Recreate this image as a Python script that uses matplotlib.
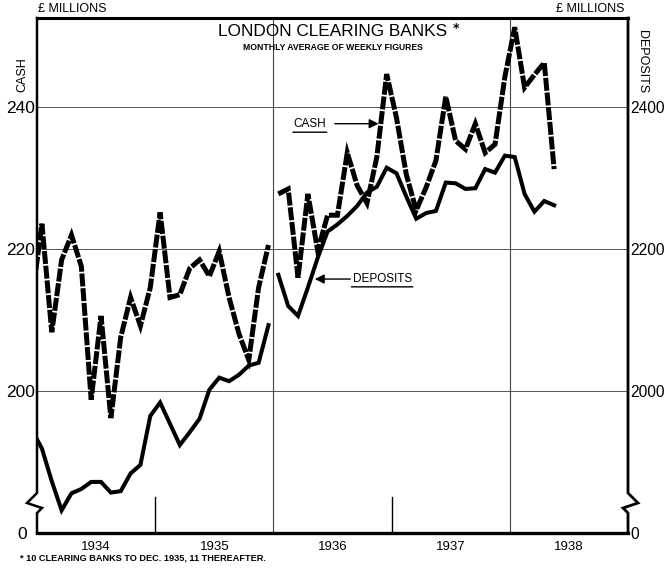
import matplotlib
matplotlib.use('Agg')
import matplotlib.pyplot as plt
from matplotlib import font_manager

# monthly averages, Dec 1933 - Dec 1935 (10 clearing banks), £ millions
start_10 = (1933, 12)
cash_10 = [213.0, 223.6, 208.3, 218.5, 222.0, 217.6, 198.8, 210.6, 196.2, 207.6, 213.2, 209.2, 214.6,
           225.2, 213.2, 213.6, 217.3, 218.5, 216.2, 219.7, 213.2, 208.1, 204.4, 214.6, 220.6]
deposits_10 = [1945, 1919, 1873, 1832, 1856, 1862, 1872, 1872, 1857, 1859, 1884, 1896, 1965,
               1984, 1954, 1924, 1942, 1961, 2002, 2019, 2014, 2023, 2036, 2040, 2093]

# Jan 1936 - May 1938 (11 clearing banks)
start_11 = (1936, 1)
cash_11 = [227.8, 228.5, 216.0, 227.8, 219.8, 224.8, 224.8, 233.6, 229.0, 226.5, 233.0, 244.7,
           238.5, 230.5, 225.5, 228.7, 232.5, 241.5, 235.3, 234.1, 237.7, 233.6, 234.8, 244.3,
           251.3, 242.8, 244.6, 246.3, 231.3]
deposits_11 = [2164, 2120, 2106, 2146, 2188, 2225, 2235, 2247, 2261, 2280, 2288, 2315,
               2307, 2274, 2243, 2251, 2254, 2294, 2293, 2285, 2286, 2313, 2308, 2332,
               2330, 2278, 2253, 2268, 2262]

years = ['1934', '1935', '1936', '1937', '1938']
cash_ticks = [180, 200, 220, 240]
cash_labels = ['0', '200', '220', '240']
dep_ticks = [1800, 2000, 2200, 2400]
dep_labels = ['0', '2000', '2200', '2400']


def month_x(start, n):
    y, m = start
    xs = []
    for i in range(n):
        xs.append(y + (m - 0.5) / 12)
        m += 1
        if m > 12:
            m = 1
            y += 1
    return xs


names = {f.name for f in font_manager.fontManager.ttflist}
if 'Liberation Sans Narrow' in names:
    NARROW = 'Liberation Sans Narrow'
    k = 1.0
else:
    NARROW = 'Liberation Sans'
    k = 0.86
SANS = 'Liberation Sans'

W, H = 668, 568
fig = plt.figure(figsize=(W / 100, H / 100), dpi=100)
ax = fig.add_axes([37 / W, 35 / H, 591 / W, 515 / H])
ax.set_xlim(1934, 1939)
ax.set_ylim(180, 252.6)
ax2 = ax.twinx()
ax2.set_ylim(1800, 2526)

# grid
for v in cash_ticks[1:]:
    ax.axhline(v, color='#555555', lw=0.7, zorder=1)
ax.axvline(1936, color='#444444', lw=0.8, zorder=1)
ax.axvline(1938, color='#444444', lw=0.8, zorder=1)
ax.axvline(1935, ymax=36 / 515, color='black', lw=1.0, zorder=1)
ax.axvline(1937, ymax=36 / 515, color='black', lw=1.0, zorder=1)

# lines
cash_style = dict(color='black', lw=3.6, dashes=(2.6, 0.35), dash_capstyle='butt',
                  dash_joinstyle='miter', zorder=3)
dep_style = dict(color='black', lw=2.9, solid_joinstyle='miter', zorder=3)
ax.plot(month_x(start_10, len(cash_10)), cash_10, **cash_style)
ax.plot(month_x(start_11, len(cash_11)), cash_11, **cash_style)
ax2.plot(month_x(start_10, len(deposits_10)), deposits_10, **dep_style)
ax2.plot(month_x(start_11, len(deposits_11)), deposits_11, **dep_style)

# spines (side ones are drawn by hand with the axis break)
for a in (ax, ax2):
    for s in a.spines.values():
        s.set_visible(False)
ax.spines['top'].set_visible(True)
ax.spines['top'].set_linewidth(2.2)
ax.spines['bottom'].set_visible(True)
ax.spines['bottom'].set_linewidth(2.4)

aw, ah = 591.0, 515.0
left_pts = [(0, ah), (0, 40), (-10, 30), (5, 25), (0, 20), (0, 0)]
right_pts = [(0, ah), (0, 40), (10, 30), (-5, 25), (0, 20), (0, 0)]
ax.plot([p[0] / aw for p in left_pts], [p[1] / ah for p in left_pts], transform=ax.transAxes,
        clip_on=False, color='black', lw=1.8, solid_joinstyle='miter', zorder=5)
ax.plot([1 + p[0] / aw for p in right_pts], [p[1] / ah for p in right_pts], transform=ax.transAxes,
        clip_on=False, color='black', lw=2.0, solid_joinstyle='miter', zorder=5)

# ticks
ax.tick_params(axis='both', length=0)
ax2.tick_params(axis='both', length=0)
ax.set_yticks(cash_ticks, cash_labels, fontsize=14.5 * k, family=NARROW)
ax.tick_params(axis='y', pad=1.5)
ax.get_yticklabels()[0].set_x(-8 / aw)
ax2.set_yticks(dep_ticks, dep_labels, fontsize=13 * k, family=NARROW)
ax2.tick_params(axis='y', pad=1.5)
ax.set_xticks([1934.5, 1935.5, 1936.5, 1937.5, 1938.5], years, fontsize=9.5, family=SANS)
ax.tick_params(axis='x', pad=6)

# labels
fig.text(38 / W, 1 - 9 / H, '£ MILLIONS', fontsize=9, family=SANS, ha='left', va='center')
fig.text(625 / W, 1 - 9 / H, '£ MILLIONS', fontsize=9, family=SANS, ha='right', va='center')
fig.text(22 / W, 1 - 75 / H, 'CASH', fontsize=9, family=SANS, rotation=90, ha='center', va='center')
fig.text(642 / W, 1 - 62 / H, 'DEPOSITS', fontsize=9, family=SANS, rotation=-90, ha='center', va='center')

title = fig.text(333 / W, 1 - 32 / H, 'LONDON CLEARING BANKS', fontsize=14.4 * k, family=NARROW,
                 ha='center', va='center')
ax.annotate('*', xy=(1, 1), xycoords=title, xytext=(4, 2), textcoords='offset points',
            fontsize=9, fontweight='bold', ha='left', va='top', annotation_clip=False)
fig.text(332.5 / W, 1 - 48 / H, 'MONTHLY AVERAGE OF WEEKLY FIGURES', fontsize=6.2, family=SANS,
         fontweight='bold', ha='center', va='center')
fig.text(20 / W, 1 - 558 / H, '* 10 CLEARING BANKS TO DEC. 1935, 11 THEREAFTER.', fontsize=6.6,
         family=SANS, fontweight='bold', ha='left', va='center')

# callouts
arrow = dict(arrowstyle='-|>', color='black', lw=1.0, mutation_scale=14, shrinkA=0, shrinkB=0)
under = dict(arrowstyle='-', color='black', lw=1.0, shrinkA=0, shrinkB=0)
t_cash = ax.text(1936.17, 237.6, 'CASH', fontsize=8.5, family=SANS, ha='left', va='center')
ax.annotate('', xy=(1936.89, 237.7), xytext=(1936.52, 237.7), arrowprops=arrow)
ax.annotate('', xy=(-0.02, -0.15), xytext=(1.02, -0.15), xycoords=t_cash, textcoords=t_cash,
            arrowprops=under)
t_dep = ax.text(1936.67, 215.8, 'DEPOSITS', fontsize=8.5, family=SANS, ha='left', va='center')
ax.annotate('', xy=(1936.35, 215.8), xytext=(1936.65, 215.8), arrowprops=arrow)
ax.annotate('', xy=(-0.02, -0.15), xytext=(1.02, -0.15), xycoords=t_dep, textcoords=t_dep,
            arrowprops=under)

fig.savefig('out.png', dpi=100)
